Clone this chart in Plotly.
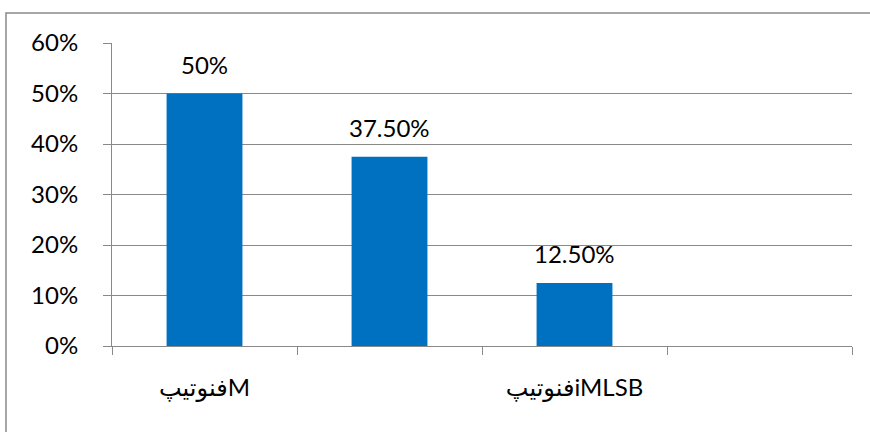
import plotly.graph_objects as go

categories = ["فنوتیپM", "فنوتیپcMLSB", "فنوتیپiMLSB", "فنوتیپL"]
tick_labels = ["فنوتیپM", "", "فنوتیپiMLSB", ""]
values = [0.50, 0.375, 0.125, None]
value_labels = ["50%", "37.50%", "12.50%", ""]
y_ticks = [0, 0.1, 0.2, 0.3, 0.4, 0.5, 0.6]
y_tick_labels = ["0%", "10%", "20%", "30%", "40%", "50%", "60%"]

FONT = "Lato, 'Noto Sans', 'DejaVu Sans', sans-serif"
GRID = "#898989"
FS = 24

fig = go.Figure()
fig.add_trace(go.Bar(
    x=categories, y=values,
    marker=dict(color="#0070C0", line=dict(width=0)),
    hoverinfo="skip",
))

for c, v, t in zip(categories, values, value_labels):
    if v is None or not t:
        continue
    fig.add_annotation(
        x=c, y=v, text=t, showarrow=False,
        yanchor="bottom", yshift=13,
        font=dict(family=FONT, size=FS, color="#000000"),
    )

fig.update_layout(
    width=870, height=432,
    margin=dict(l=112, r=18, t=43, b=86),
    paper_bgcolor="white", plot_bgcolor="white",
    bargap=0.59,
    showlegend=False,
    font=dict(family=FONT, size=FS, color="#000000"),
    xaxis=dict(
        type="category",
        tickmode="array", tickvals=categories, ticktext=tick_labels,
        tickson="boundaries",
        ticks="outside", ticklen=8, tickcolor=GRID, tickwidth=1,
        showline=True, linecolor=GRID, linewidth=1,
        showgrid=False, zeroline=False,
        ticklabelstandoff=20,
        tickfont=dict(family=FONT, size=FS, color="#000000"),
        range=[-0.5, 3.5],
    ),
    yaxis=dict(
        range=[0, 0.6],
        tickmode="array", tickvals=y_ticks, ticktext=y_tick_labels,
        ticks="outside", ticklen=8, tickcolor=GRID, tickwidth=1,
        showline=True, linecolor=GRID, linewidth=1,
        showgrid=True, gridcolor=GRID, gridwidth=1,
        zeroline=False,
        ticklabelstandoff=20,
        tickfont=dict(family=FONT, size=FS, color="#000000"),
    ),
    shapes=[dict(
        type="rect", xref="paper", yref="paper",
        x0=(6 - 112) / 740, x1=1.2, y0=-0.5, y1=1 + (43 - 13) / 303,
        line=dict(color="#898989", width=1.5), fillcolor="rgba(0,0,0,0)",
        layer="below",
    )],
)

fig.write_html("out.html", config={"displayModeBar": False},
               post_script="document.body.style.margin='0';")
